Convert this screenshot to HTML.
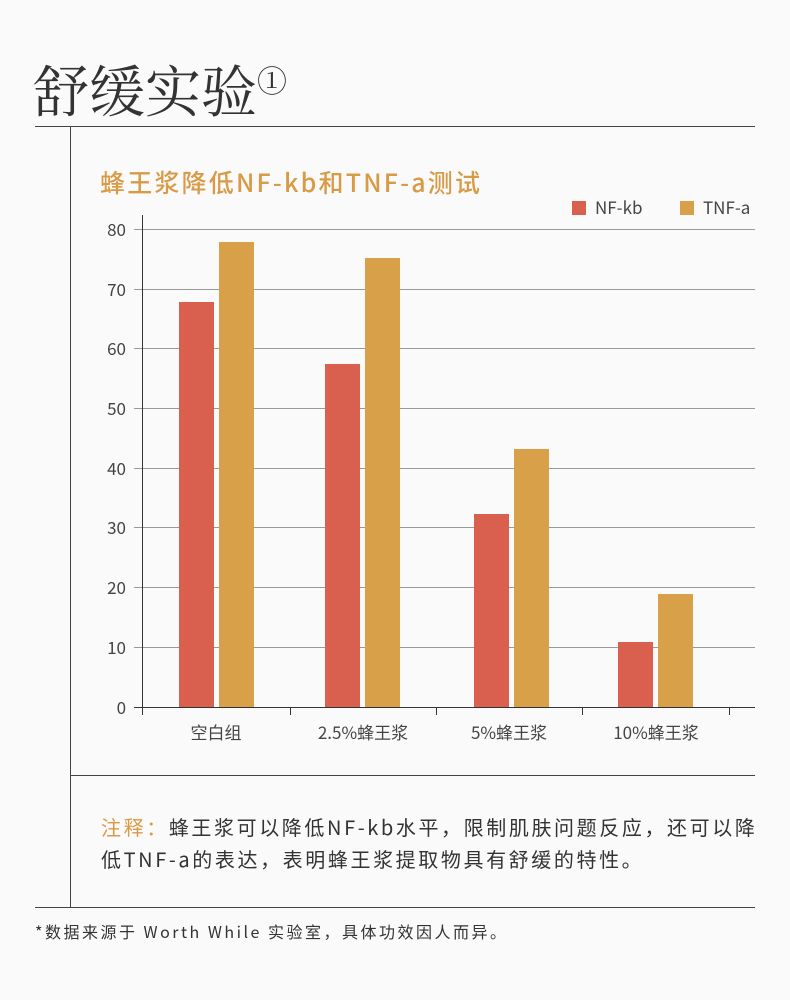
<!DOCTYPE html>
<html><head><meta charset="utf-8"><style>
body{margin:0;background:#fafafa;}
#p{position:relative;width:790px;height:1000px;overflow:hidden;background:#fafafa;font-family:"Noto Sans CJK SC","Liberation Sans",sans-serif;color:#333}
.a{position:absolute;white-space:nowrap}
</style></head><body><div id="p">
<div class="a" style="left:33px;top:49px;font-family:'Liberation Serif','Noto Serif CJK SC',serif;font-size:56px;line-height:68px;color:#333">舒缓实验<span style="font-size:30px;vertical-align:20px">①</span></div>
<div class="a" style="left:35px;top:126px;width:720px;height:1px;background:#444"></div>
<div class="a" style="left:70px;top:127px;width:1px;height:781px;background:#444"></div>
<div class="a" style="left:100px;top:164px;font-size:25px;letter-spacing:2.2px;line-height:36px;color:#d99a45;font-weight:500">蜂王浆降低NF-kb和TNF-a测试</div>
<div class="a" style="left:572px;top:201px;width:14px;height:14px;background:#d9604e"></div>
<div class="a" style="left:595px;top:195px;font-size:17px;line-height:24px;color:#444">NF-kb</div>
<div class="a" style="left:680px;top:201px;width:14px;height:14px;background:#d9a04a"></div>
<div class="a" style="left:703px;top:195px;font-size:17px;line-height:24px;color:#444">TNF-a</div>
<svg class="a" style="left:0;top:0" width="790" height="1000">
<g stroke="#999" stroke-width="1">
<line x1="134" x2="755" y1="229.5" y2="229.5"/><line x1="134" x2="755" y1="289.5" y2="289.5"/><line x1="134" x2="755" y1="348.5" y2="348.5"/><line x1="134" x2="755" y1="408.5" y2="408.5"/><line x1="134" x2="755" y1="468.5" y2="468.5"/><line x1="134" x2="755" y1="527.5" y2="527.5"/><line x1="134" x2="755" y1="587.5" y2="587.5"/><line x1="134" x2="755" y1="647.5" y2="647.5"/>
</g>
<g fill="#d9604e"><rect x="179" y="302" width="35" height="405"/><rect x="325" y="364" width="35" height="343"/><rect x="474" y="514" width="35" height="193"/><rect x="618" y="642" width="35" height="65"/></g>
<g fill="#d9a04a"><rect x="219" y="242" width="35" height="465"/><rect x="365" y="258" width="35" height="449"/><rect x="514" y="449" width="35" height="258"/><rect x="658" y="594" width="35" height="113"/></g>
<g stroke="#333" stroke-width="1"><line x1="142.5" x2="142.5" y1="215" y2="715"/><line x1="134" x2="755" y1="707.5" y2="707.5"/>
<line x1="290.5" x2="290.5" y1="707" y2="715"/><line x1="436.5" x2="436.5" y1="707" y2="715"/><line x1="582.5" x2="582.5" y1="707" y2="715"/><line x1="729.5" x2="729.5" y1="707" y2="715"/></g>
<g font-size="17" fill="#444" text-anchor="end" font-family="Noto Sans CJK SC,Liberation Sans,sans-serif">
<text x="126" y="236">80</text><text x="126" y="296">70</text><text x="126" y="355">60</text><text x="126" y="415">50</text><text x="126" y="475">40</text><text x="126" y="534">30</text><text x="126" y="594">20</text><text x="126" y="654">10</text><text x="126" y="714">0</text></g>
<g font-size="17" fill="#444" text-anchor="middle" font-family="Noto Sans CJK SC,Liberation Sans,sans-serif">
<text x="216" y="739">空白组</text><text x="363" y="739">2.5%蜂王浆</text><text x="509" y="739">5%蜂王浆</text><text x="656" y="739">10%蜂王浆</text></g>
</svg>
<div class="a" style="left:70px;top:775px;width:685px;height:1px;background:#444"></div>
<div class="a" style="left:101px;top:811px;font-size:20px;letter-spacing:2.6px;line-height:32px;color:#333"><span style="color:#d99a45">注释：</span>蜂王浆可以降低NF-kb水平，限制肌肤问题反应，还可以降<br>低TNF-a的表达，表明蜂王浆提取物具有舒缓的特性。</div>
<div class="a" style="left:35px;top:907px;width:720px;height:1px;background:#444"></div>
<div class="a" style="left:35px;top:919px;font-size:16px;letter-spacing:2.5px;line-height:24px;color:#333">*数据来源于 Worth While 实验室，具体功效因人而异。</div>
</div></body></html>
